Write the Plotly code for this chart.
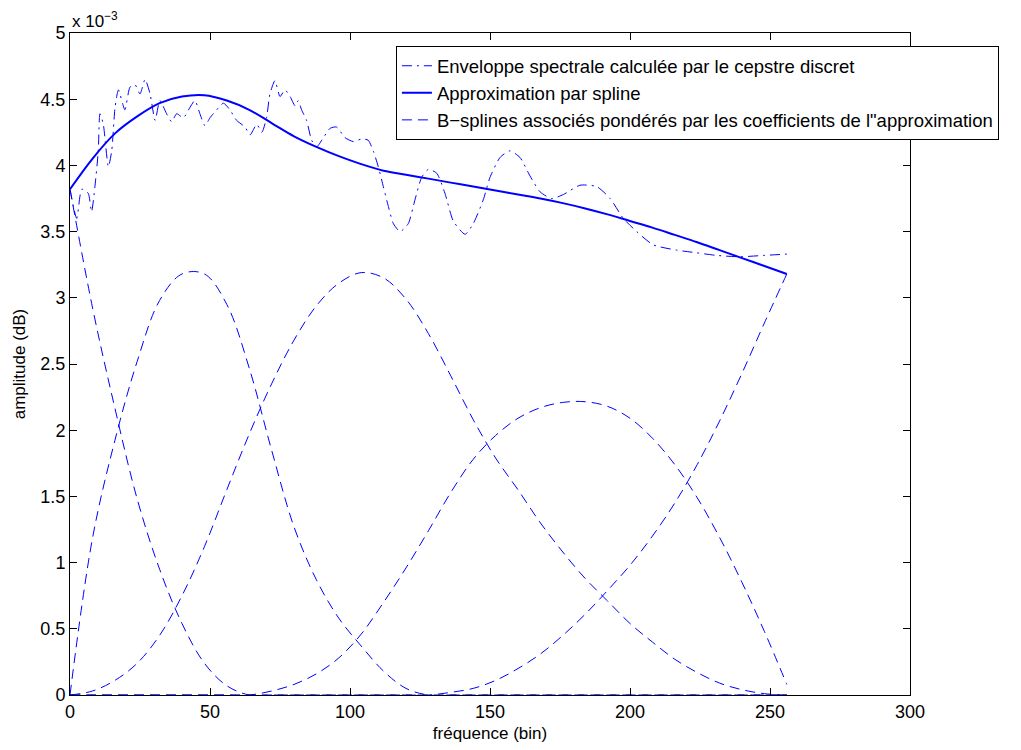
import plotly.graph_objects as go

# ---- data (amplitude values shown in units of 1e-3) ----
env_x = [0, 2.4, 4.2, 6.5, 7.7, 8.9, 10.1, 10.7, 11.9, 13.7, 14.9, 16.1, 17.3, 19.6, 21.4, 23.2,
         25.0, 26.8, 28.6, 30.4, 32.1, 34.5, 36.3, 38.1, 40.5, 42.9, 44.6, 46.4, 48.2, 50.0, 52.4,
         54.8, 57.1, 59.5, 62.5, 64.3, 66.7, 68.5, 70.2, 71.4, 73.2, 75.0, 76.8, 78.6, 80.4, 81.5,
         82.7, 84.5, 86.3, 88.1, 90.5, 92.9, 95.2, 98.2, 101.2, 104.2, 106.5, 108.3, 110.1, 111.9,
         113.7, 115.5, 117.9, 120.8, 123.2, 125.6, 128.0, 131.0, 133.9, 136.9, 141.1, 144.0, 147.6,
         150.0, 153.6, 157.1, 160.7, 164.3, 167.9, 172.0, 176.2, 182.1, 188.1, 192.9, 197.6, 202.4,
         208.3, 216.7, 223.8, 231.0, 239.3, 247.6, 256.0]
env_y = [3.82, 3.60, 3.82, 3.79, 3.65, 3.84, 4.11, 4.39, 4.31, 3.99, 4.11, 4.44, 4.57, 4.42, 4.59, 4.61,
         4.54, 4.65, 4.54, 4.34, 4.49, 4.39, 4.33, 4.39, 4.36, 4.44, 4.49, 4.39, 4.30, 4.36, 4.42,
         4.47, 4.42, 4.34, 4.29, 4.23, 4.31, 4.25, 4.36, 4.54, 4.64, 4.52, 4.57, 4.52, 4.45, 4.49,
         4.42, 4.34, 4.19, 4.14, 4.21, 4.28, 4.29, 4.21, 4.18, 4.20, 4.19, 4.11, 3.99, 3.84,
         3.69, 3.56, 3.50, 3.56, 3.74, 3.91, 3.97, 3.94, 3.79, 3.58, 3.48, 3.56, 3.74,
         3.91, 4.06, 4.11, 4.06, 3.92, 3.80, 3.75, 3.78, 3.85, 3.84, 3.75, 3.60, 3.50,
         3.40, 3.36, 3.34, 3.32, 3.31, 3.32, 3.33]

grid_x = [0, 8, 16, 24, 32, 40, 48, 56, 64, 72, 80, 88, 96, 104, 112, 120, 128,
          136, 144, 152, 160, 168, 176, 184, 192, 200, 208, 216, 224, 232, 240, 248, 256]

spline_y = [3.82, 4.05, 4.24, 4.37, 4.47, 4.52, 4.53, 4.49, 4.42, 4.32, 4.22, 4.14, 4.07, 4.01, 3.96,
            3.93, 3.90, 3.87, 3.84, 3.81, 3.78, 3.75, 3.715, 3.675, 3.63, 3.58, 3.53, 3.475, 3.42,
            3.36, 3.30, 3.24, 3.18]

bspline_1 = [3.82, 2.93, 2.17, 1.48, 0.95, 0.54, 0.24, 0.07, 0, 0, 0, 0, 0, 0, 0, 0, 0,
             0, 0, 0, 0, 0, 0, 0, 0, 0, 0, 0, 0, 0, 0, 0, 0]
bspline_2 = [0, 1.18, 1.92, 2.52, 2.98, 3.18, 3.18, 2.95, 2.47, 1.85, 1.27, 0.87, 0.58, 0.37, 0.18,
             0.05, 0, 0, 0, 0, 0, 0, 0, 0, 0, 0, 0, 0, 0, 0, 0, 0, 0]
bspline_3 = [0, 0.03, 0.11, 0.24, 0.45, 0.75, 1.12, 1.55, 1.97, 2.35, 2.68, 2.94, 3.11, 3.19, 3.15,
             2.99, 2.73, 2.41, 2.08, 1.79, 1.55, 1.30, 1.08, 0.88, 0.71, 0.54, 0.40, 0.27, 0.17,
             0.09, 0.04, 0.01, 0]
bspline_4 = [0, 0, 0, 0, 0, 0, 0, 0, 0, 0.03, 0.08, 0.16, 0.28, 0.46, 0.70, 0.96, 1.24,
             1.53, 1.78, 1.96, 2.09, 2.17, 2.21, 2.215, 2.18, 2.09, 1.94, 1.74, 1.49, 1.19, 0.85,
             0.48, 0.08]
bspline_5 = [0, 0, 0, 0, 0, 0, 0, 0, 0, 0, 0, 0, 0, 0, 0, 0, 0,
             0.02, 0.05, 0.11, 0.20, 0.31, 0.45, 0.61, 0.79, 0.98, 1.20, 1.45, 1.74, 2.07, 2.43,
             2.81, 3.18]

y_tick_vals = [0, 0.5, 1, 1.5, 2, 2.5, 3, 3.5, 4, 4.5, 5]
y_tick_text = ["0", "0.5", "1", "1.5", "2", "2.5", "3", "3.5", "4", "4.5", "5"]
x_tick_vals = [0, 50, 100, 150, 200, 250, 300]

names = ["Enveloppe spectrale calculée par le cepstre discret",
         "Approximation par spline",
         "B\u2212splines associés pondérés par les coefficients de l\"approximation"]

BLUE = "#0000FF"
FONT = "Liberation Sans, Arial, Helvetica, sans-serif"

fig = go.Figure()
fig.add_trace(go.Scatter(x=env_x, y=env_y, mode="lines", name=names[0],
                         line=dict(color=BLUE, width=1, dash="10px,5px,2px,5px", shape="spline", smoothing=0.6)))
fig.add_trace(go.Scatter(x=grid_x, y=spline_y, mode="lines", name=names[1],
                         line=dict(color=BLUE, width=2, shape="spline", smoothing=1.0)))
for i, b in enumerate([bspline_1, bspline_2, bspline_3, bspline_4, bspline_5]):
    fig.add_trace(go.Scatter(x=grid_x, y=b, mode="lines", name=names[2], legendgroup="bs",
                             showlegend=(i == 0),
                             line=dict(color=BLUE, width=1, dash="10px,6px", shape="spline", smoothing=1.0)))

fig.update_layout(
    width=1021, height=750,
    margin=dict(l=70, r=111, t=33, b=55, autoexpand=False),
    paper_bgcolor="white", plot_bgcolor="white",
    font=dict(family=FONT, size=18, color="black"),
    showlegend=True,
    legend=dict(x=0.388, y=0.98, xanchor="left", yanchor="top",
                bgcolor="white", bordercolor="black", borderwidth=1,
                font=dict(family=FONT, size=18.5, color="black"),
                tracegroupgap=0),
    xaxis=dict(range=[0, 300], tickvals=x_tick_vals, showgrid=False, zeroline=False,
               showline=True, linecolor="black", linewidth=1, mirror="ticks",
               ticks="inside", ticklen=7, tickcolor="black", layer="below traces",
               title=dict(text="fréquence (bin)", standoff=6, font=dict(size=17))),
    yaxis=dict(range=[0, 5], tickvals=y_tick_vals, ticktext=y_tick_text, showgrid=False,
               zeroline=False, showline=True, linecolor="black", linewidth=1, mirror="ticks",
               ticks="inside", ticklen=7, tickcolor="black",
               title=dict(text="amplitude (dB)", standoff=10, font=dict(size=17))),
    annotations=[dict(text="x 10<sup>\u22123</sup>", xref="paper", yref="paper", x=0, y=1,
                      xanchor="left", yanchor="bottom", showarrow=False,
                      font=dict(family=FONT, size=17, color="black"))],
)

fig.write_html("out.html")
